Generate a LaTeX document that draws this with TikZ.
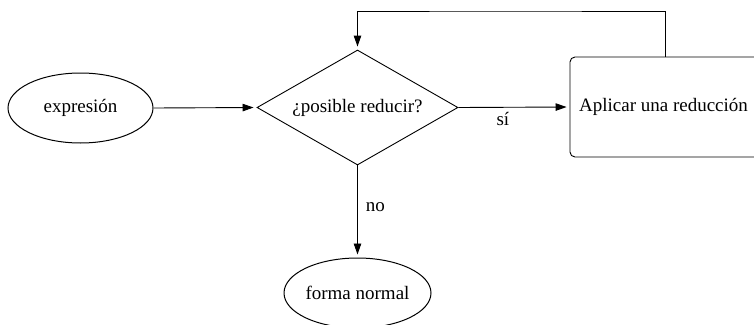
\documentclass[tikz,border=0pt]{standalone}
\usepackage{fontspec}
\setmainfont{Liberation Serif}
\usetikzlibrary{shapes.geometric,arrows.meta}
\begin{document}
\begin{tikzpicture}[x=1pt,y=-1pt,
  every node/.style={font=\fontsize{19}{22}\selectfont, inner sep=0pt},
  ell/.style={draw, ellipse, line width=1pt, minimum width=145pt, minimum height=70pt},
  dec/.style={draw, diamond, aspect=1.75, line width=0.9pt, minimum width=201pt, minimum height=115pt},
  act/.style={draw, rounded corners=5pt, line width=0.9pt, minimum width=190pt, minimum height=100pt},
  arr/.style={-{Triangle[length=11pt,width=7.5pt]}, line width=0.9pt, shorten >=3pt},
  lbl/.style={font=\fontsize{19}{22}\selectfont}]
\useasboundingbox (0,0) rectangle (754,324);
\clip (0,0) rectangle (754,324);
\node[ell] (expr) at (80.5,108) {expresión};
\node[dec] (q) at (357.5,107.5) {¿posible reducir?};
\node[act] (red) at (665,107) {\hspace*{-3pt}Aplicar una reducción};
\node[ell] (fn) at (357.5,293) {forma normal};
\coordinate (top) at (500,11);
\draw[arr] (expr.east) -- (q.west);
\draw[arr] (q.east) -- node[lbl, below=5pt, pos=0.4] {sí} (red.west);
\draw[arr] (q.south) -- node[lbl, right=8pt, pos=0.45] {no} (fn.north);
\draw[arr] (red.north) |- (top) -| (q.north);
\end{tikzpicture}
\end{document}
